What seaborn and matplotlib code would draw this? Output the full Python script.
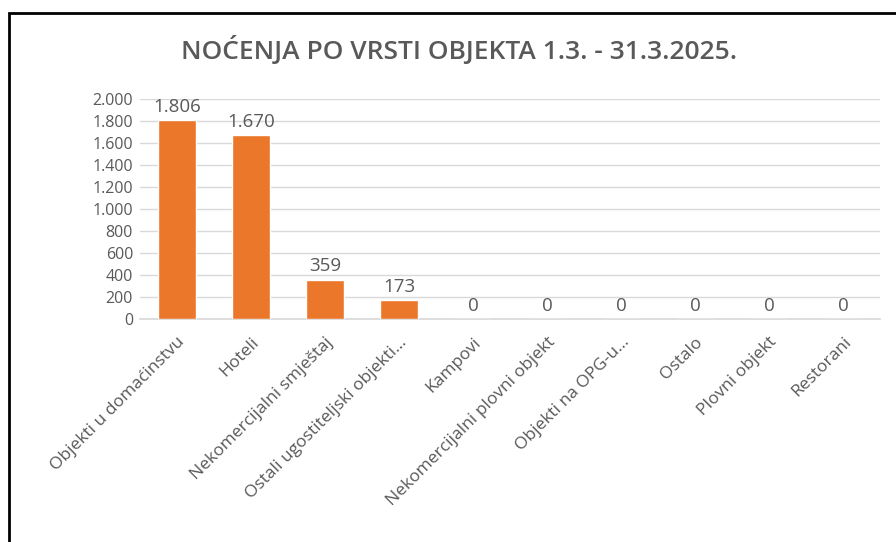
import matplotlib
matplotlib.use("Agg")
import matplotlib.pyplot as plt
import seaborn as sns
import pandas as pd
from matplotlib.patches import Rectangle

categories = [
    "Objekti u domaćinstvu",
    "Hoteli",
    "Nekomercijalni smještaj",
    "Ostali ugostiteljski objekti...",
    "Kampovi",
    "Nekomercijalni plovni objekt",
    "Objekti na OPG-u...",
    "Ostalo",
    "Plovni objekt",
    "Restorani",
]
nights = [1806, 1670, 359, 173, 0, 0, 0, 0, 0, 0]
y_ticks = [0, 200, 400, 600, 800, 1000, 1200, 1400, 1600, 1800, 2000]

TEXT = "#595959"
BAR = "#EB772A"

sns.set_theme(style="white")
plt.rcParams["font.family"] = ["Open Sans", "DejaVu Sans"]

df = pd.DataFrame({"kategorija": categories, "nocenja": nights})


def fmt(v):
    return f"{v:,.0f}".replace(",", ".")


fig = plt.figure(figsize=(8.96, 5.42), dpi=100)
ax = fig.add_axes([140 / 896, 1 - 319 / 542, 740 / 896, 220 / 542])

sns.barplot(data=df, x="kategorija", y="nocenja", color=BAR, width=0.52,
            saturation=1, ax=ax, zorder=3)

ax.set_ylim(0, 2000)
ax.set_yticks(y_ticks)
ax.set_yticklabels([fmt(t) for t in y_ticks], color=TEXT, fontsize=11.5)
ax.yaxis.grid(True, color="#D9D9D9", linewidth=1, zorder=0)
ax.set_axisbelow(True)
ax.tick_params(axis="y", length=0, pad=5)
ax.tick_params(axis="x", length=0, pad=11)
ax.set_xlabel("")
ax.set_ylabel("")
for side in ["top", "right", "left"]:
    ax.spines[side].set_visible(False)
ax.spines["bottom"].set_color("#D9D9D9")

ax.set_xticks(range(len(categories)))
ax.set_xticklabels(categories, rotation=45, ha="right", rotation_mode="anchor",
                   color=TEXT, fontsize=12.5)

for i, v in enumerate(nights):
    ax.text(i, v + 40, fmt(v), ha="center", va="bottom", color=TEXT, fontsize=13.5)

fig.text(0.512, 1 - 50 / 542, "NOĆENJA PO VRSTI OBJEKTA 1.3. - 31.3.2025.",
         ha="center", va="center", fontsize=19, fontweight="semibold", color=TEXT)

fig.patches.append(Rectangle((9 / 896, -0.1), 2, 1.1 - 13 / 542, transform=fig.transFigure,
                             fill=False, edgecolor="black", linewidth=2))

fig.savefig("out.png", dpi=100)
